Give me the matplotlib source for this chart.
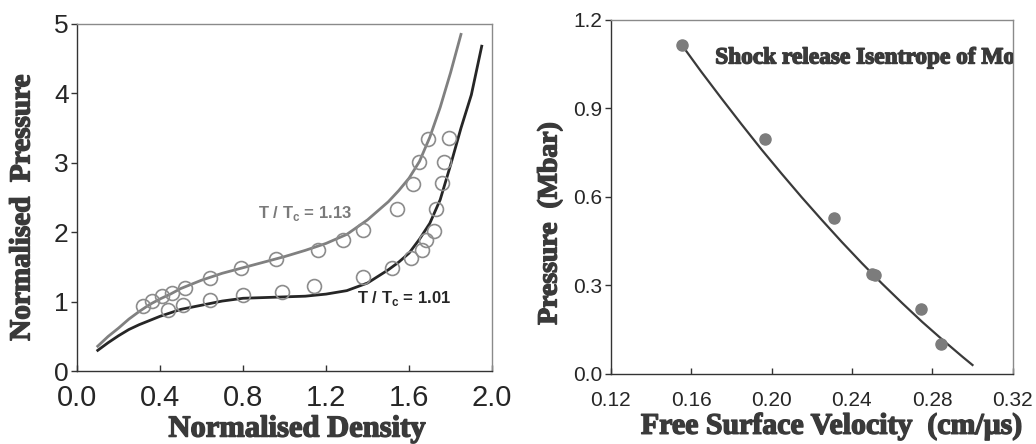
import numpy as np
import matplotlib
matplotlib.use("Agg")
import matplotlib.pyplot as plt
import matplotlib.patheffects as pe

plt.rcParams['mathtext.fontset'] = 'custom'
plt.rcParams['mathtext.rm'] = 'Liberation Sans'
plt.rcParams['mathtext.bf'] = 'Liberation Sans:bold'

# ---- left panel: normalised pressure vs density ----
rho_hot = [0.10, 0.15, 0.20, 0.25, 0.30, 0.35, 0.40, 0.45, 0.50, 0.55, 0.60, 0.70,
           0.80, 0.90, 1.00, 1.10, 1.20, 1.30, 1.40, 1.50, 1.55, 1.60, 1.65, 1.70,
           1.75, 1.80, 1.85]
p_hot = [0.36, 0.50, 0.62, 0.75, 0.86, 0.96, 1.04, 1.11, 1.19, 1.25, 1.31, 1.41,
         1.49, 1.57, 1.65, 1.74, 1.84, 1.97, 2.18, 2.44, 2.60, 2.78, 3.02, 3.37,
         3.80, 4.30, 4.85]

rho_cold = [0.10, 0.15, 0.20, 0.25, 0.30, 0.35, 0.40, 0.45, 0.50, 0.55, 0.60, 0.70,
            0.80, 0.90, 1.00, 1.10, 1.20, 1.30, 1.40, 1.50, 1.55, 1.60, 1.65, 1.70,
            1.75, 1.80, 1.85, 1.90, 1.95]
p_cold = [0.30, 0.41, 0.51, 0.60, 0.67, 0.73, 0.79, 0.84, 0.89, 0.92, 0.95, 1.01,
          1.05, 1.06, 1.07, 1.08, 1.11, 1.16, 1.27, 1.46, 1.57, 1.70, 1.90, 2.13,
          2.47, 2.97, 3.50, 3.98, 4.68]

rho_hot_pts = [0.32, 0.36, 0.41, 0.46, 0.52, 0.64, 0.79, 0.96, 1.16, 1.28, 1.38,
               1.54, 1.62, 1.65, 1.69]
p_hot_pts = [0.94, 1.01, 1.08, 1.13, 1.20, 1.34, 1.48, 1.61, 1.75, 1.89, 2.03,
             2.34, 2.70, 3.01, 3.34]

rho_cold_pts = [0.44, 0.51, 0.64, 0.80, 0.99, 1.14, 1.38, 1.52, 1.61, 1.66, 1.68,
                1.72, 1.73, 1.76, 1.77, 1.79]
p_cold_pts = [0.88, 0.95, 1.02, 1.09, 1.14, 1.22, 1.36, 1.49, 1.63, 1.74, 1.89,
              2.02, 2.34, 2.71, 3.01, 3.36]

# ---- right panel: release isentrope of Mo ----
ufs_pts = [0.1555, 0.1966, 0.2313, 0.2500, 0.2515, 0.2746, 0.2842]
pres_pts = [1.115, 0.795, 0.529, 0.337, 0.335, 0.219, 0.102]

ufs_fit = [0.157, 0.165, 0.175, 0.185, 0.195, 0.205, 0.215, 0.225, 0.235, 0.245,
           0.255, 0.265, 0.275, 0.285, 0.295, 0.300]
pres_fit = [1.100, 1.025, 0.935, 0.847, 0.761, 0.679, 0.599, 0.522, 0.447, 0.375,
            0.306, 0.240, 0.176, 0.116, 0.058, 0.030]

fig = plt.figure(figsize=(10.36, 4.44), dpi=100)

# heavy serif look for the axis titles
heavy = [pe.withStroke(linewidth=1.0, foreground='#3a3a3a')]
label_font = dict(family='Liberation Serif', fontweight='bold', color='#3a3a3a',
                  path_effects=heavy)


def style_axes(ax, xpad):
    for side in ['left', 'bottom']:
        ax.spines[side].set_color('#333333')
        ax.spines[side].set_linewidth(1.0)
    for side in ['top', 'right']:
        ax.spines[side].set_color('#8a8a8a')
        ax.spines[side].set_linewidth(1.0)
    ax.tick_params(axis='x', direction='in', length=4, width=1, color='#333333', pad=xpad)
    ax.tick_params(axis='y', direction='out', length=4, width=1, color='#333333', pad=2)
    for lab in ax.get_xticklabels() + ax.get_yticklabels():
        lab.set_family('Liberation Sans')
        lab.set_color('#262626')


ax1 = fig.add_axes([0.0743, 0.164, 0.4007, 0.782])
ax1.plot(rho_hot, p_hot, color='#808080', lw=2.0)
ax1.plot(rho_cold, p_cold, color='#262626', lw=2.0)
ax1.plot(rho_hot_pts, p_hot_pts, 'o', ms=10, mfc='none', mec='#8c8c8c', mew=1.2)
ax1.plot(rho_cold_pts, p_cold_pts, 'o', ms=10, mfc='none', mec='#8c8c8c', mew=1.2)
ax1.set_xlim(0.0, 2.0)
ax1.set_ylim(0, 5)
ax1.set_xticks([0.0, 0.4, 0.8, 1.2, 1.6, 2.0])
ax1.set_xticklabels(['0.0', '0.4', '0.8', '1.2', '1.6', '2.0'], fontsize=21)
ax1.set_yticks([0, 1, 2, 3, 4, 5])
ax1.set_yticklabels(['0', '1', '2', '3', '4', '5'], fontsize=19)
style_axes(ax1, 9)
ax1.text(0.87, 2.27, r'T / T$_{\mathbf{c}}$ = 1.13', fontsize=12, fontweight='bold',
         family='Liberation Sans', color='#7a7a7a', va='center')
ax1.text(1.35, 1.04, r'T / T$_{\mathbf{c}}$ = 1.01', fontsize=12, fontweight='bold',
         family='Liberation Sans', color='#262626', va='center')
ax1.set_xlabel('Normalised Density', fontsize=22, **label_font)
ax1.set_ylabel('Normalised  Pressure', fontsize=21, **label_font)
ax1.xaxis.set_label_coords(0.53, -0.125)
ax1.yaxis.set_label_coords(-0.10, 0.47)

ax2 = fig.add_axes([0.5895, 0.158, 0.388, 0.797])
ax2.plot(ufs_fit, pres_fit, color='#3a3a3a', lw=1.6)
ax2.plot(ufs_pts, pres_pts, 'o', ms=8, color='#7c7c7c')
ax2.set_xlim(0.12, 0.32)
ax2.set_ylim(0.0, 1.2)
ax2.set_xticks([0.12, 0.16, 0.20, 0.24, 0.28, 0.32])
ax2.set_xticklabels(['0.12', '0.16', '0.20', '0.24', '0.28', '0.32'], fontsize=15)
ax2.set_yticks([0.0, 0.3, 0.6, 0.9, 1.2])
ax2.set_yticklabels(['0.0', '0.3', '0.6', '0.9', '1.2'], fontsize=15)
style_axes(ax2, 12)
ax2.text(0.172, 1.071, 'Shock release Isentrope of Mo', fontsize=16.8, va='center',
         clip_on=True, **label_font)
ax2.set_xlabel(u'Free Surface Velocity  (cm/\u03bcs)', fontsize=21.5, **label_font)
ax2.set_ylabel('Pressure  (Mbar)', fontsize=20, **label_font)
ax2.xaxis.set_label_coords(0.55, -0.11)
ax2.yaxis.set_label_coords(-0.12, 0.425)

fig.savefig('out.png', dpi=100)
